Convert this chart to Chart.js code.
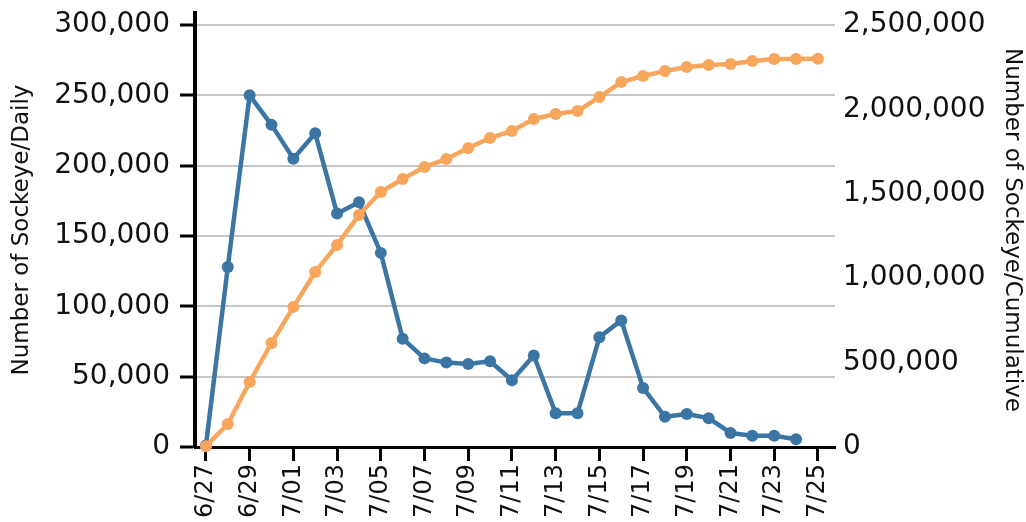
<!DOCTYPE html>
<html>
<head>
<meta charset="utf-8">
<script src="https://cdn.jsdelivr.net/npm/chart.js@4.4.1/dist/chart.umd.min.js"></script>
<style>
html, body { margin: 0; padding: 0; background: #fff; }
#wrap { width: 1026px; height: 522px; }
</style>
</head>
<body>
<div id="wrap"><canvas id="sockeyeChart" width="1026" height="522"></canvas></div>
<script>
// run dates, 6/27 through 7/25
var dates = ['6/27','6/28','6/29','6/30','7/01','7/02','7/03','7/04','7/05','7/06',
             '7/07','7/08','7/09','7/10','7/11','7/12','7/13','7/14','7/15','7/16',
             '7/17','7/18','7/19','7/20','7/21','7/22','7/23','7/24','7/25'];

// daily counts (no value for 7/25)
var daily = [1000, 128000, 250000, 229000, 205000, 223000, 166000, 174000, 138000, 77000,
             63000, 60000, 59000, 61000, 47500, 65000, 24000, 24000, 78000, 90000,
             42000, 21500, 23500, 20500, 10000, 8000, 8000, 5500];

// cumulative counts
var cumulative = [5000, 136000, 385000, 616000, 829000, 1037000, 1197000, 1374000, 1511000, 1588000,
                  1659000, 1706000, 1771000, 1831000, 1872000, 1943000, 1973000, 1990000, 2073000, 2162000,
                  2198000, 2227000, 2251000, 2263000, 2269000, 2287000, 2298000, 2298000, 2300000];

var dailyTicks = [0, 50000, 100000, 150000, 200000, 250000, 300000];
var cumulativeTicks = [0, 500000, 1000000, 1500000, 2000000, 2500000];

var blue = '#3b75a3';
var orange = '#f8a65c';
var fontFamily = "'DejaVu Sans', sans-serif";

function toPoints(values) {
    return values.map(function(v, i) { return {x: i, y: v}; });
}

// fixed box sizes so the plot area lands where the original has it
function fitBox(size, horizontal) {
    return function(scale) {
        if (horizontal) {
            scale.height = size;
            scale.paddingLeft = 0;
            scale.paddingRight = 0;
        } else {
            scale.width = size;
            scale.paddingTop = 0;
            scale.paddingBottom = 0;
        }
    };
}

var ctx = document.getElementById('sockeyeChart').getContext('2d');
var sockeyeChart = new Chart(ctx, {
    type: 'line',
    data: {
        datasets: [{
            label: 'Daily',
            data: toPoints(daily),
            yAxisID: 'yDaily',
            borderColor: blue,
            backgroundColor: blue,
            borderWidth: 4.5,
            pointRadius: 6,
            pointBorderWidth: 0,
            borderJoinStyle: 'round',
            tension: 0,
            clip: false,
            order: 2
        }, {
            label: 'Cumulative',
            data: toPoints(cumulative),
            yAxisID: 'yCum',
            borderColor: orange,
            backgroundColor: orange,
            borderWidth: 4.5,
            pointRadius: 6,
            pointBorderWidth: 0,
            borderJoinStyle: 'round',
            tension: 0,
            clip: false,
            order: 1
        }]
    },
    options: {
        responsive: false,
        animation: false,
        layout: { padding: { top: 13, left: 0, right: 0, bottom: 0 } },
        plugins: {
            legend: { display: false },
            tooltip: { enabled: false }
        },
        scales: {
            x: {
                type: 'linear',
                min: -0.5,
                max: 28.78,
                afterBuildTicks: function(scale) {
                    scale.ticks = dates.map(function(d, i) { return {value: i}; })
                                       .filter(function(t) { return t.value % 2 === 0; });
                },
                afterFit: fitBox(75, true),
                grid: {
                    drawOnChartArea: false,
                    drawTicks: true,
                    tickLength: 14,
                    tickColor: '#000',
                    tickWidth: 3
                },
                border: { display: true, color: '#000', width: 3 },
                ticks: {
                    autoSkip: false,
                    minRotation: 90,
                    maxRotation: 90,
                    padding: 3,
                    color: '#111',
                    font: { family: fontFamily, size: 24 },
                    callback: function(value) { return dates[value]; }
                }
            },
            yDaily: {
                type: 'linear',
                position: 'left',
                min: 0,
                max: 308531,
                afterBuildTicks: function(scale) {
                    scale.ticks = dailyTicks.map(function(v) { return {value: v}; });
                },
                afterFit: fitBox(195, false),
                grid: {
                    color: '#c6c6c6',
                    lineWidth: 2,
                    tickLength: 15,
                    tickColor: '#000',
                    tickWidth: 3
                },
                border: { display: true, color: '#000', width: 4 },
                ticks: {
                    padding: 10,
                    color: '#111',
                    font: { family: fontFamily, size: 28 },
                    callback: function(value) { return value.toLocaleString('en-US'); }
                },
                title: {
                    display: true,
                    text: 'Number of Sockeye/Daily',
                    color: '#111',
                    font: { family: fontFamily, size: 23 },
                    padding: { top: 8, bottom: 0 }
                }
            },
            yCum: {
                type: 'linear',
                position: 'right',
                min: 0,
                max: 2571090,
                afterBuildTicks: function(scale) {
                    scale.ticks = cumulativeTicks.map(function(v) { return {value: v}; });
                },
                afterFit: fitBox(191, false),
                grid: { drawOnChartArea: false, drawTicks: false },
                border: { display: false },
                ticks: {
                    padding: 8,
                    color: '#111',
                    font: { family: fontFamily, size: 28 },
                    callback: function(value) { return value.toLocaleString('en-US'); }
                },
                title: {
                    display: true,
                    text: 'Number of Sockeye/Cumulative',
                    color: '#111',
                    font: { family: fontFamily, size: 23 },
                    padding: { top: 0, bottom: 0 }
                }
            }
        }
    }
});
</script>
</body>
</html>
